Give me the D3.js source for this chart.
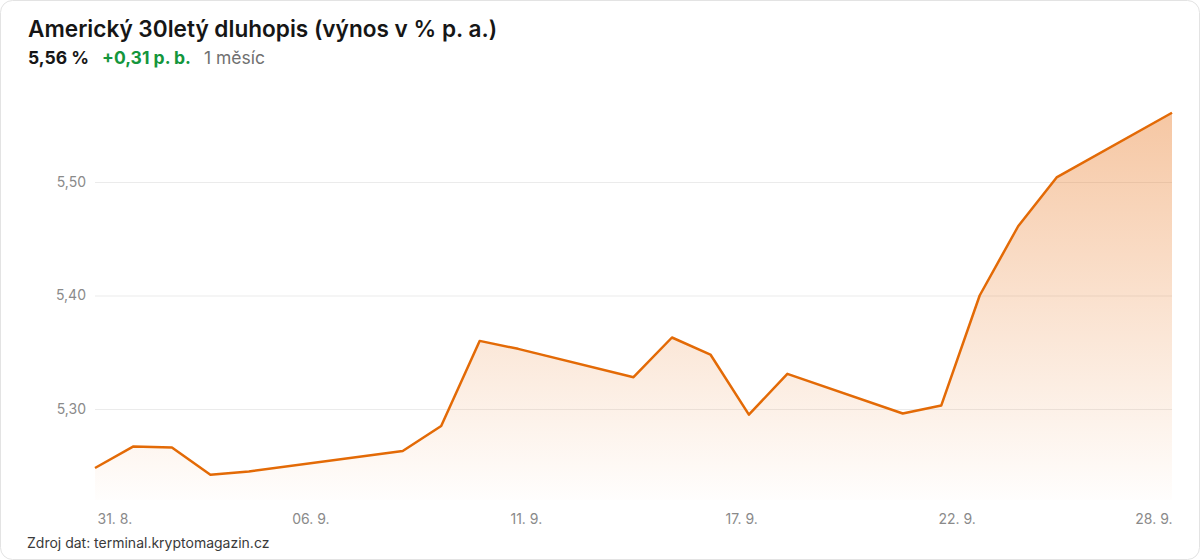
<!DOCTYPE html>
<html><head><meta charset="utf-8">
<script src="https://cdn.jsdelivr.net/npm/d3@7"></script>
<style>
html,body{margin:0;padding:0;background:#fff;}
svg{display:block;font-family:Inter,"Noto Sans",sans-serif;}
</style></head>
<body>
<svg id="chart" width="1200" height="560"></svg>
<script>
// ---- data ----
const startDate = "2025-08-31";
const endDate = "2025-09-28";
const dates = ["2025-08-31","2025-09-01","2025-09-02","2025-09-03","2025-09-04",
  "2025-09-08","2025-09-09","2025-09-10","2025-09-11",
  "2025-09-14","2025-09-15","2025-09-16","2025-09-17","2025-09-18",
  "2025-09-21","2025-09-22","2025-09-23","2025-09-24","2025-09-25",
  "2025-09-28"];
const yields = [5.248,5.267,5.266,5.242,5.245,
  5.263,5.285,5.360,5.353,
  5.328,5.363,5.348,5.295,5.331,
  5.296,5.303,5.400,5.461,5.504,
  5.561];
const yTicks = [5.30,5.40,5.50];
const xTickLabels = ["31. 8.","06. 9.","11. 9.","17. 9.","22. 9.","28. 9."];
const titleText = "Americký 30letý dluhopis (výnos v % p. a.)";
const lastValueText = "5,56 %";
const changeText = "+0,31 p. b.";
const periodText = "1 měsíc";
const sourceText = "Zdroj dat: terminal.kryptomagazin.cz";

// ---- layout ----
const W = 1200, H = 560;
const plot = {left:95, right:1172, top:112, bottom:500};
const svg = d3.select("#chart");
const parse = d3.timeParse("%Y-%m-%d");
const data = dates.map((d,i)=>({date:parse(d), v:yields[i]}));

const x = d3.scaleTime().domain([parse(startDate), parse(endDate)]).range([plot.left, plot.right]);
const y = d3.scaleLinear().domain([5.30, 5.50]).range([409, 182]);

// card
svg.append("rect").attr("x",0.5).attr("y",0.5).attr("width",W-1).attr("height",H-1)
  .attr("rx",12).attr("fill","#fff").attr("stroke","#e3e3e3");

// gradient
const defs = svg.append("defs");
const grad = defs.append("linearGradient").attr("id","areaGrad")
  .attr("gradientUnits","userSpaceOnUse").attr("x1",0).attr("x2",0)
  .attr("y1", y(d3.max(yields))).attr("y2", plot.bottom);
grad.append("stop").attr("offset","0%").attr("stop-color","#e8731a").attr("stop-opacity",0.40);
grad.append("stop").attr("offset","100%").attr("stop-color","#e8731a").attr("stop-opacity",0.01);

// grid
const yAxis = d3.axisLeft(y).tickValues(yTicks).tickSize(-(plot.right-plot.left))
  .tickFormat(d=>d3.format(".2f")(d).replace(".",",")).tickPadding(9);
const gy = svg.append("g").attr("transform",`translate(${plot.left},0)`).call(yAxis);
gy.select(".domain").remove();
gy.selectAll(".tick line").attr("stroke","#ebebeb").attr("stroke-width",1);
gy.selectAll(".tick text").attr("fill","#8a8a8a").attr("font-size",14).attr("font-family","Inter,sans-serif");

// area + line
const area = d3.area().x(d=>x(d.date)).y0(plot.bottom).y1(d=>y(d.v));
svg.append("path").datum(data).attr("d",area).attr("fill","url(#areaGrad)");
const line = d3.line().x(d=>x(d.date)).y(d=>y(d.v));
svg.append("path").datum(data).attr("d",line).attr("fill","none")
  .attr("stroke","#e36a06").attr("stroke-width",2.5).attr("stroke-linejoin","round");

// x labels
const t0 = parse(startDate).getTime(), t1 = parse(endDate).getTime();
const xTickDates = xTickLabels.map((_,i)=>new Date(t0 + (t1-t0)*i/(xTickLabels.length-1)));
const xAxis = d3.axisBottom(x).tickValues(xTickDates).tickSize(0)
  .tickFormat((d,i)=>xTickLabels[i]).tickPadding(0);
const gx = svg.append("g").attr("transform",`translate(0,514)`).call(xAxis);
gx.select(".domain").remove();
gx.selectAll(".tick text").attr("fill","#8a8a8a").attr("font-size",14)
  .attr("font-family","Inter,sans-serif")
  .attr("text-anchor",(d,i)=> i===0 ? "start" : (i===xTickLabels.length-1 ? "end" : "middle"))
  .attr("dx",(d,i)=> i===0 ? 2 : 0);

// title
svg.append("text").attr("x",28).attr("y",37).attr("font-size",22.6).attr("font-weight",600)
  .attr("fill","#161616").text(titleText);
const sub = svg.append("text").attr("x",28).attr("y",64).attr("font-size",17.5);
sub.append("tspan").attr("font-weight",700).attr("fill","#161616").text(lastValueText);
sub.append("tspan").attr("dx",13).attr("font-weight",700).attr("fill","#14963c").text(changeText);
sub.append("tspan").attr("dx",13).attr("font-weight",400).attr("fill","#707070").text(periodText);

// source
svg.append("text").attr("x",27).attr("y",548).attr("font-size",14).attr("fill","#3a3a3a").text(sourceText);
</script>
</body></html>
